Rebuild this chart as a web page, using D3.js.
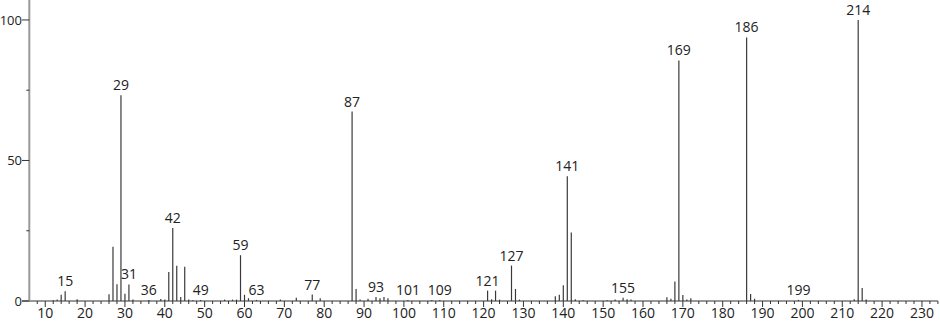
<!DOCTYPE html>
<html>
<head>
<meta charset="utf-8">
<script src="https://cdn.jsdelivr.net/npm/d3@7"></script>
<style>
  body { margin: 0; background: #fff; }
  text { font-family: "Open Sans", sans-serif; }
</style>
</head>
<body>
<div class="spectrum"></div>
<script>
// mass spectrum: m/z and relative intensity
const mz = [12, 13, 14, 15, 18, 26, 27, 28, 29, 30, 31, 32, 36, 39, 40, 41, 42, 43, 44, 45, 46, 47, 49,
  55, 57, 58, 59, 60, 61, 63, 69, 73, 77, 79, 87, 88, 89, 91, 93, 94, 95, 96, 101, 107, 109,
  121, 122, 123, 124, 127, 128, 129, 138, 139, 140, 141, 142, 143, 145, 151, 153, 155, 156, 157,
  166, 167, 168, 169, 170, 171, 172, 186, 187, 188, 199, 213, 214, 215, 216];
const intensity = [0.3, 0.5, 2.2, 3.5, 0.6, 2.4, 19.3, 6, 73.2, 2.6, 5.9, 0.5, 0.4, 0.7, 0.5, 10.3, 26, 12.5, 1.4, 12.2, 0.5, 0.3, 0.4,
  0.5, 0.5, 0.5, 16.3, 2.2, 1, 0.4, 0.5, 1.2, 2.3, 1, 67.4, 4.3, 0.5, 0.8, 1.4, 1, 1.4, 1, 0.4, 0.4, 0.4,
  3.7, 0.6, 3.7, 0.5, 12.6, 4.3, 0.5, 1.7, 2.2, 5.6, 44.4, 24.4, 0.6, 0.3, 0.3, 0.5, 1.2, 0.6, 0.5,
  1.3, 0.8, 6.9, 85.6, 2.1, 0.5, 1, 93.8, 2.5, 0.8, 0.4, 0.6, 100, 4.6, 0.5];
const labeled = [15, 29, 31, 36, 42, 49, 59, 63, 77, 87, 93, 101, 109, 121, 127, 141, 155, 169, 186, 199, 214];
const xTicks = d3.range(10, 231, 10);
const xMinor = d3.range(8, 235, 2);
const yTicks = [0, 50, 100];
const yMinor = [25, 75];

const data = mz.map((m, i) => ({mz: m, v: intensity[i]}));

const width = 940;
const height = 323;
const svg = d3.select('.spectrum')
  .append('svg')
  .attr('width', width)
  .attr('height', height);

const x = d3.scaleLinear().domain([6, 234]).range([29.3, 937.9]);
const y = d3.scaleLinear().domain([0, 107.1]).range([301, 0]);

// x axis line + ticks
svg.append('line')
  .attr('x1', 22).attr('x2', x(234))
  .attr('y1', y(0)).attr('y2', y(0))
  .attr('stroke', '#333').attr('stroke-width', 1);

svg.selectAll('line.xminor')
  .data(xMinor.filter(d => d % 10 != 0))
  .enter()
  .append('line')
  .attr('class', 'xminor')
  .attr('x1', d => x(d)).attr('x2', d => x(d))
  .attr('y1', y(0)).attr('y2', y(0) + 3)
  .attr('stroke', '#333');

svg.selectAll('line.xmajor')
  .data(xTicks)
  .enter()
  .append('line')
  .attr('class', 'xmajor')
  .attr('x1', d => x(d)).attr('x2', d => x(d))
  .attr('y1', y(0)).attr('y2', y(0) + 6)
  .attr('stroke', '#333');

svg.selectAll('text.xlab')
  .data(xTicks)
  .enter()
  .append('text')
  .attr('class', 'xlab')
  .attr('x', d => x(d))
  .attr('y', 318)
  .attr('text-anchor', 'middle')
  .attr('font-size', 14)
  .attr('fill', '#222')
  .text(d => d);

// y axis
svg.append('line')
  .attr('x1', x(6)).attr('x2', x(6))
  .attr('y1', 0).attr('y2', y(0))
  .attr('stroke', '#999').attr('stroke-width', 2);

svg.selectAll('line.ymajor')
  .data(yTicks)
  .enter()
  .append('line')
  .attr('class', 'ymajor')
  .attr('x1', 22).attr('x2', x(6))
  .attr('y1', d => y(d)).attr('y2', d => y(d))
  .attr('stroke', '#333');

svg.selectAll('line.yminor')
  .data(yMinor)
  .enter()
  .append('line')
  .attr('class', 'yminor')
  .attr('x1', x(6) - 3).attr('x2', x(6))
  .attr('y1', d => y(d)).attr('y2', d => y(d))
  .attr('stroke', '#333');

svg.selectAll('text.ylab')
  .data(yTicks)
  .enter()
  .append('text')
  .attr('class', 'ylab')
  .attr('x', 22)
  .attr('y', d => y(d) + 5)
  .attr('text-anchor', 'end')
  .attr('font-size', 13)
  .attr('fill', '#222')
  .text(d => d);

// peaks
svg.selectAll('line.peak')
  .data(data)
  .enter()
  .append('line')
  .attr('class', 'peak')
  .attr('x1', d => x(d.mz)).attr('x2', d => x(d.mz))
  .attr('y1', y(0)).attr('y2', d => y(d.v))
  .attr('stroke', '#3a3a3a')
  .attr('stroke-width', 1.2);

svg.selectAll('text.peaklab')
  .data(data.filter(d => labeled.includes(d.mz)))
  .enter()
  .append('text')
  .attr('class', 'peaklab')
  .attr('x', d => x(d.mz))
  .attr('y', d => y(d.v) - 5)
  .attr('text-anchor', 'middle')
  .attr('font-size', 14)
  .attr('fill', '#222')
  .text(d => d.mz);
</script>
</body>
</html>
